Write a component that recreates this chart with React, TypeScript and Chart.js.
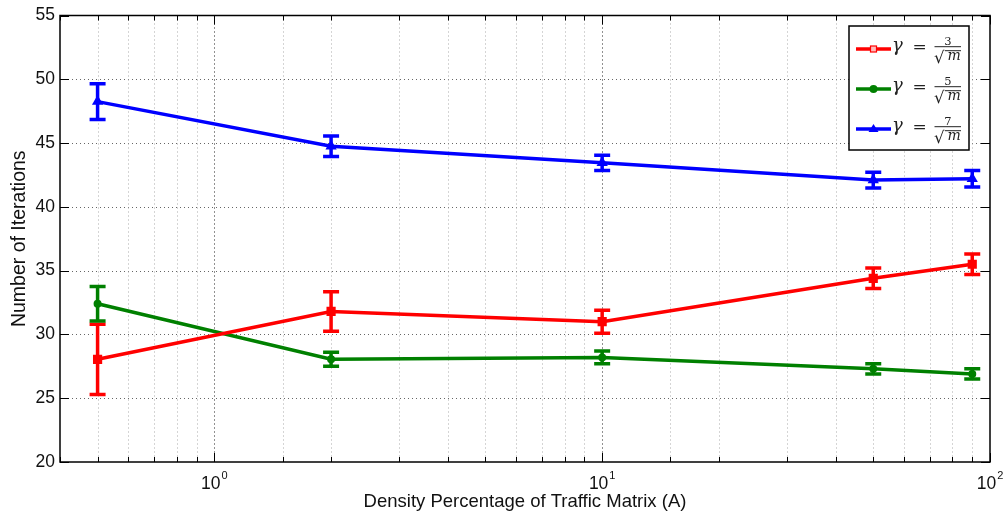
import React, { useEffect, useRef } from 'react';
import { Chart, registerables } from 'chart.js';

Chart.register(...registerables);

// ---- data ----
const densityValues = [0.5, 2, 10, 50, 90];
const gamma3Values = [28.05, 31.8, 31.0, 34.4, 35.5];
const gamma3Errors = [2.75, 1.55, 0.9, 0.8, 0.8];
const gamma5Values = [32.4, 28.05, 28.2, 27.3, 26.9];
const gamma5Errors = [1.35, 0.55, 0.5, 0.4, 0.4];
const gamma7Values = [48.25, 44.75, 43.45, 42.1, 42.2];
const gamma7Errors = [1.4, 0.8, 0.6, 0.62, 0.65];
const legendNumerators = ['3', '5', '7'];
const xMajorExponents = ['0', '1', '2'];
const xMajorValues = [1, 10, 100];
const xTitle = 'Density Percentage of Traffic Matrix (A)';
const yTitle = 'Number of Iterations';

const SANS = '"Liberation Sans", Arial, Helvetica, sans-serif';
const MATH = '"DejaVu Serif", "Liberation Serif", serif';
const COLORS = ['#ff0000', '#008000', '#0000ff'];
const POINT_STYLES = ['rect', 'circle', 'triangle'];
const POINT_RADII = [6.5, 4, 6.5];
const errorSets = [gamma3Errors, gamma5Errors, gamma7Errors];

const isMajor = (v: number) => {
  const l = Math.log10(v);
  return Math.abs(l - Math.round(l)) < 1e-9;
};

const decor = {
  id: 'decor',
  beforeDatasetsDraw(chart: any) {
    const { ctx, chartArea: a, scales } = chart;
    const x = scales.x;
    const y = scales.y;
    ctx.save();
    ctx.lineWidth = 1;
    ctx.setLineDash([1, 3]);
    y.ticks.forEach((t: any) => {
      const py = Math.round(y.getPixelForValue(t.value)) + 0.5;
      if (py <= a.top + 1 || py >= a.bottom - 1) return;
      ctx.strokeStyle = '#666';
      ctx.beginPath();
      ctx.moveTo(a.left, py);
      ctx.lineTo(a.right, py);
      ctx.stroke();
    });
    x.ticks.forEach((t: any) => {
      const px = Math.round(x.getPixelForValue(t.value)) + 0.5;
      if (px <= a.left + 1 || px >= a.right - 1) return;
      ctx.strokeStyle = isMajor(t.value) ? '#222' : '#aaa';
      ctx.beginPath();
      ctx.moveTo(px, a.top);
      ctx.lineTo(px, a.bottom);
      ctx.stroke();
    });
    ctx.setLineDash([]);
    // error bars
    chart.data.datasets.forEach((ds: any, i: number) => {
      const errs = errorSets[i];
      ctx.strokeStyle = ds.borderColor;
      ctx.lineWidth = 3.5;
      ctx.lineCap = 'butt';
      ds.data.forEach((p: any, j: number) => {
        const px = x.getPixelForValue(p.x);
        const top = y.getPixelForValue(p.y + errs[j]);
        const bot = y.getPixelForValue(p.y - errs[j]);
        const cap = 8;
        ctx.beginPath();
        ctx.moveTo(px, top);
        ctx.lineTo(px, bot);
        ctx.moveTo(px - cap, top);
        ctx.lineTo(px + cap, top);
        ctx.moveTo(px - cap, bot);
        ctx.lineTo(px + cap, bot);
        ctx.stroke();
      });
    });
    ctx.restore();
  },
  afterDraw(chart: any) {
    const { ctx, chartArea: a, scales } = chart;
    const x = scales.x;
    const y = scales.y;
    ctx.save();
    // inward tick marks
    ctx.strokeStyle = '#000';
    ctx.lineWidth = 1;
    y.ticks.forEach((t: any) => {
      const py = Math.round(y.getPixelForValue(t.value)) + 0.5;
      ctx.beginPath();
      ctx.moveTo(a.left, py);
      ctx.lineTo(a.left + 9, py);
      ctx.moveTo(a.right, py);
      ctx.lineTo(a.right - 9, py);
      ctx.stroke();
    });
    x.ticks.forEach((t: any) => {
      const px = Math.round(x.getPixelForValue(t.value)) + 0.5;
      const len = isMajor(t.value) ? 9 : 5;
      ctx.beginPath();
      ctx.moveTo(px, a.bottom);
      ctx.lineTo(px, a.bottom - len);
      ctx.moveTo(px, a.top);
      ctx.lineTo(px, a.top + len);
      ctx.stroke();
    });
    // frame
    ctx.lineWidth = 1.5;
    ctx.strokeRect(a.left, a.top, a.right - a.left, a.bottom - a.top);

    // x tick labels 10^n
    ctx.fillStyle = '#111';
    ctx.textBaseline = 'alphabetic';
    xMajorValues.forEach((v, i) => {
      const px = x.getPixelForValue(v);
      ctx.font = `17.5px ${SANS}`;
      const w1 = ctx.measureText('10').width;
      ctx.font = `11px ${SANS}`;
      const w2 = ctx.measureText(xMajorExponents[i]).width;
      const start = px - (w1 + w2 + 1) / 2;
      ctx.font = `17.5px ${SANS}`;
      ctx.textAlign = 'left';
      ctx.fillText('10', start, 489);
      ctx.font = `11px ${SANS}`;
      ctx.fillText(xMajorExponents[i], start + w1 + 1, 479);
    });

    // legend
    const lx = 849, ly = 26, lw = 120, lh = 124;
    ctx.fillStyle = '#fff';
    ctx.fillRect(lx, ly, lw, lh);
    ctx.strokeStyle = '#000';
    ctx.lineWidth = 1.5;
    ctx.strokeRect(lx, ly, lw, lh);
    chart.data.datasets.forEach((ds: any, i: number) => {
      const ry = 49 + i * 40;
      ctx.strokeStyle = ds.borderColor;
      ctx.fillStyle = ds.borderColor;
      ctx.lineWidth = 3.5;
      ctx.beginPath();
      ctx.moveTo(856, ry);
      ctx.lineTo(891, ry);
      ctx.stroke();
      const mx = 873.5;
      if (i === 0) {
        ctx.lineWidth = 1.2;
        ctx.fillStyle = '#ffbbbb';
        ctx.fillRect(mx - 3, ry - 3, 6, 6);
        ctx.strokeRect(mx - 3, ry - 3, 6, 6);
      } else if (i === 1) {
        ctx.beginPath();
        ctx.arc(mx, ry, 4, 0, Math.PI * 2);
        ctx.fill();
      } else {
        ctx.beginPath();
        ctx.moveTo(mx, ry - 5);
        ctx.lineTo(mx + 5, ry + 3);
        ctx.lineTo(mx - 5, ry + 3);
        ctx.closePath();
        ctx.fill();
      }
      ctx.fillStyle = '#222';
      ctx.strokeStyle = '#222';
      ctx.textAlign = 'left';
      ctx.textBaseline = 'alphabetic';
      ctx.font = `italic 18px ${MATH}`;
      ctx.fillText('γ', 892, ry + 2);
      ctx.font = `17px ${MATH}`;
      ctx.fillText('=', 912.5, ry + 3);
      // fraction
      ctx.lineWidth = 1;
      ctx.beginPath();
      ctx.moveTo(934.5, ry - 2.3);
      ctx.lineTo(961, ry - 2.3);
      ctx.stroke();
      ctx.font = `11.5px ${MATH}`;
      ctx.textAlign = 'center';
      ctx.fillText(legendNumerators[i], 948, ry - 4.5);
      ctx.textAlign = 'left';
      ctx.font = `16.5px ${MATH}`;
      ctx.fillText('√', 934, ry + 13.5);
      ctx.font = `italic 14px ${MATH}`;
      ctx.fillText('m', 947.5, ry + 11);
      ctx.beginPath();
      ctx.moveTo(945, ry + 1.7);
      ctx.lineTo(961, ry + 1.7);
      ctx.stroke();
    });
    ctx.restore();
  },
};

export default function App() {
  const ref = useRef<HTMLCanvasElement>(null);
  useEffect(() => {
    if (!ref.current) return;
    const seriesValues = [gamma3Values, gamma5Values, gamma7Values];
    const chart = new Chart(ref.current, {
      type: 'line',
      data: {
        datasets: seriesValues.map((vals, i) => ({
          label: `γ = ${legendNumerators[i]}/√m`,
          data: densityValues.map((d, j) => ({ x: d, y: vals[j] })),
          borderColor: COLORS[i],
          backgroundColor: COLORS[i],
          borderWidth: 3.5,
          pointStyle: POINT_STYLES[i] as any,
          pointRadius: POINT_RADII[i],
          pointBorderWidth: 0,
          tension: 0,
        })),
      },
      options: {
        animation: false,
        responsive: false,
        maintainAspectRatio: false,
        layout: { padding: { top: 15, right: 17, left: 0, bottom: 0 } },
        plugins: { legend: { display: false }, tooltip: { enabled: false } },
        scales: {
          x: {
            type: 'logarithmic',
            min: 0.4,
            max: 100,
            afterFit: (s: any) => {
              s.height = 57;
            },
            ticks: { display: false, autoSkip: false },
            grid: { display: false, drawTicks: false },
            border: { display: false },
            title: {
              display: true,
              text: xTitle,
              color: '#111',
              font: { family: SANS, size: 18.5 },
              padding: { top: 0, bottom: 6 },
            },
          },
          y: {
            min: 20,
            max: 55,
            afterFit: (s: any) => {
              s.width = 60;
            },
            ticks: {
              stepSize: 5,
              color: '#111',
              font: { family: SANS, size: 17.5 },
              padding: 5,
            },
            grid: { display: false, drawTicks: false },
            border: { display: false },
            title: {
              display: true,
              text: yTitle,
              color: '#111',
              font: { family: SANS, size: 19.5 },
              padding: { top: 7.5, bottom: 0 },
            },
          },
        },
      },
      plugins: [decor],
    });
    return () => chart.destroy();
  }, []);
  return (
    <div style={{ position: 'fixed', left: 0, top: 0, width: 1007, height: 519, background: '#fff' }}>
      <canvas ref={ref} width={1007} height={519} style={{ display: 'block' }} />
    </div>
  );
}
